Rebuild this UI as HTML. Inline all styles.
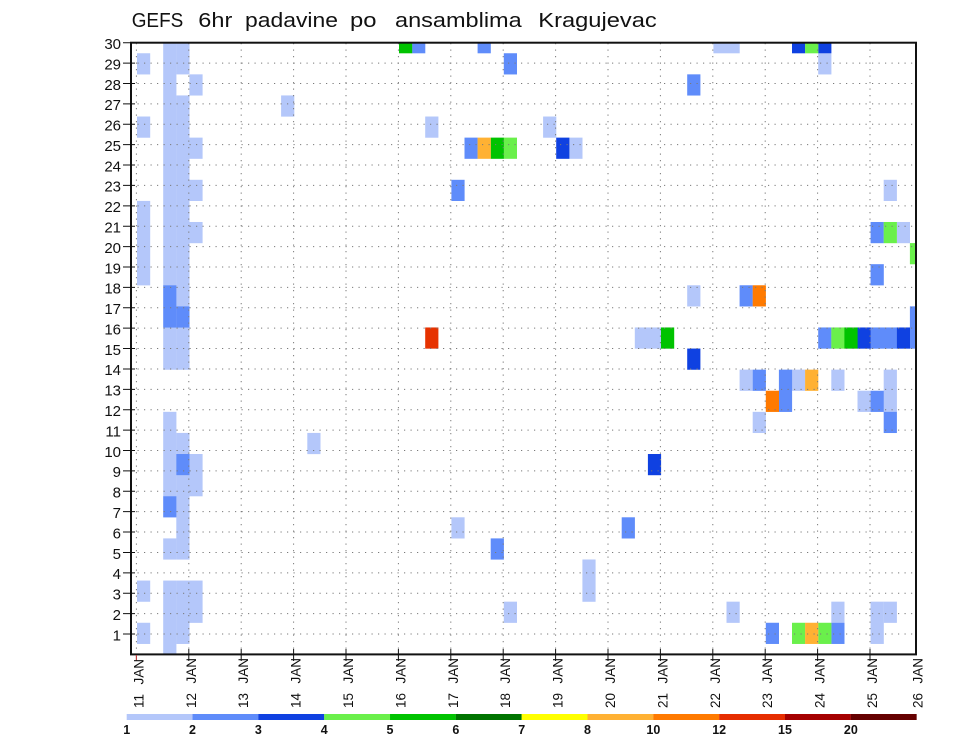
<!DOCTYPE html>
<html>
<head>
<meta charset="utf-8">
<style>
html,body{margin:0;padding:0;background:#fff;}
svg{display:block;}
.a{fill:#b4c7fa}.b{fill:#5f8cfa}.c{fill:#0f41e1}.d{fill:#6af04b}.e{fill:#00c300}
.f{fill:#ffb133}.g{fill:#ff7a00}.h{fill:#e63200}
text{font-family:"Liberation Sans",sans-serif;fill:#111;}
</style>
</head>
<body>
<svg width="960" height="742" viewBox="0 0 960 742" xmlns="http://www.w3.org/2000/svg">
<defs>
<clipPath id="pc"><rect x="131" y="42.7" width="785" height="611.7"/></clipPath>
</defs>
<rect width="960" height="742" fill="#fff"/>

<!-- title -->
<g font-size="20">
<text x="131.7" y="27" textLength="51.6" lengthAdjust="spacingAndGlyphs">GEFS</text>
<text x="198.3" y="27" textLength="34" lengthAdjust="spacingAndGlyphs">6hr</text>
<text x="245" y="27" textLength="93" lengthAdjust="spacingAndGlyphs">padavine</text>
<text x="350" y="27" textLength="26.5" lengthAdjust="spacingAndGlyphs">po</text>
<text x="395" y="27" textLength="126.7" lengthAdjust="spacingAndGlyphs">ansamblima</text>
<text x="538.3" y="27" textLength="118.4" lengthAdjust="spacingAndGlyphs">Kragujevac</text>
</g>

<g clip-path="url(#pc)">
<g>
<!-- light a -->
<rect class="a" x="137" y="622.76" width="13.2" height="21.2"/>
<rect class="a" x="137" y="580.57" width="13.2" height="21.2"/>
<rect class="a" x="137" y="200.90" width="13.2" height="84.47"/>
<rect class="a" x="137" y="116.52" width="13.2" height="21.2"/>
<rect class="a" x="137" y="53.25" width="13.2" height="21.2"/>

<rect class="a" x="163.2" y="580.57" width="13.2" height="84.5"/>
<rect class="a" x="163.2" y="538.39" width="13.2" height="21.2"/>
<rect class="a" x="163.2" y="411.83" width="13.2" height="84.47"/>
<rect class="a" x="163.2" y="327.46" width="13.2" height="42.3"/>
<rect class="a" x="163.2" y="20" width="13.2" height="265.4"/>

<rect class="a" x="176.3" y="580.57" width="13.2" height="63.4"/>
<rect class="a" x="176.3" y="475.11" width="13.2" height="84.47"/>
<rect class="a" x="176.3" y="432.92" width="13.2" height="21.2"/>
<rect class="a" x="176.3" y="327.46" width="13.2" height="42.3"/>
<rect class="a" x="176.3" y="95.43" width="13.2" height="211.0"/>
<rect class="a" x="176.3" y="20" width="13.2" height="54.4"/>

<rect class="a" x="189.4" y="580.57" width="13.2" height="42.3"/>
<rect class="a" x="189.4" y="454.01" width="13.2" height="42.3"/>
<rect class="a" x="189.4" y="221.99" width="13.2" height="21.2"/>
<rect class="a" x="189.4" y="179.80" width="13.2" height="21.2"/>
<rect class="a" x="189.4" y="137.62" width="13.2" height="21.2"/>
<rect class="a" x="189.4" y="74.34" width="13.2" height="21.2"/>

<rect class="a" x="281.1" y="95.43" width="13.2" height="21.2"/>
<rect class="a" x="307.3" y="432.92" width="13.2" height="21.2"/>
<rect class="a" x="425.2" y="116.52" width="13.2" height="21.2"/>
<rect class="a" x="451.4" y="517.29" width="13.2" height="21.2"/>
<rect class="a" x="503.8" y="601.66" width="13.2" height="21.2"/>
<rect class="a" x="543.1" y="116.52" width="13.2" height="21.2"/>
<rect class="a" x="569.3" y="137.62" width="13.2" height="21.2"/>
<rect class="a" x="582.4" y="559.48" width="13.2" height="42.3"/>
<rect class="a" x="634.8" y="327.46" width="26.3" height="21.2"/>
<rect class="a" x="687.2" y="285.27" width="13.2" height="21.2"/>
<rect class="a" x="713.4" y="20" width="26.3" height="33.3"/>
<rect class="a" x="726.5" y="601.66" width="13.2" height="21.2"/>
<rect class="a" x="739.6" y="369.64" width="13.2" height="21.2"/>
<rect class="a" x="752.7" y="411.83" width="13.2" height="21.2"/>
<rect class="a" x="792" y="369.64" width="13.2" height="21.2"/>
<rect class="a" x="818.2" y="53.25" width="13.2" height="21.2"/>
<rect class="a" x="831.3" y="369.64" width="13.2" height="21.2"/>
<rect class="a" x="831.3" y="601.66" width="13.2" height="21.2"/>
<rect class="a" x="857.5" y="390.73" width="13.2" height="21.2"/>
<rect class="a" x="870.6" y="601.66" width="13.2" height="42.3"/>
<rect class="a" x="883.7" y="179.80" width="13.2" height="21.2"/>
<rect class="a" x="883.7" y="369.64" width="13.2" height="42.3"/>
<rect class="a" x="883.7" y="601.66" width="13.2" height="21.2"/>
<rect class="a" x="896.8" y="221.99" width="13.2" height="21.2"/>

<!-- medium b -->
<rect class="b" x="163.2" y="285.27" width="13.2" height="42.3"/>
<rect class="b" x="163.2" y="496.20" width="13.2" height="21.2"/>
<rect class="b" x="176.3" y="306.36" width="13.2" height="21.2"/>
<rect class="b" x="176.3" y="454.01" width="13.2" height="21.2"/>
<rect class="b" x="412.1" y="20" width="13.2" height="33.3"/>
<rect class="b" x="477.6" y="20" width="13.2" height="33.3"/>
<rect class="b" x="503.8" y="53.25" width="13.2" height="21.2"/>
<rect class="b" x="464.5" y="137.62" width="13.2" height="21.2"/>
<rect class="b" x="451.4" y="179.80" width="13.2" height="21.2"/>
<rect class="b" x="490.7" y="538.39" width="13.2" height="21.2"/>
<rect class="b" x="621.7" y="517.29" width="13.2" height="21.2"/>
<rect class="b" x="687.2" y="74.34" width="13.2" height="21.2"/>
<rect class="b" x="870.6" y="221.99" width="13.2" height="21.2"/>
<rect class="b" x="870.6" y="264.18" width="13.2" height="21.2"/>
<rect class="b" x="870.6" y="327.46" width="26.3" height="21.2"/>
<rect class="b" x="870.6" y="390.73" width="13.2" height="21.2"/>
<rect class="b" x="883.7" y="411.83" width="13.2" height="21.2"/>
<rect class="b" x="909.9" y="306.36" width="13.2" height="42.3"/>
<rect class="b" x="739.6" y="285.27" width="13.2" height="21.2"/>
<rect class="b" x="818.2" y="327.46" width="13.2" height="21.2"/>
<rect class="b" x="752.7" y="369.64" width="13.2" height="21.2"/>
<rect class="b" x="778.9" y="369.64" width="13.2" height="42.3"/>
<rect class="b" x="765.8" y="622.76" width="13.2" height="21.2"/>
<rect class="b" x="831.3" y="622.76" width="13.2" height="21.2"/>

<!-- dark c -->
<rect class="c" x="556.2" y="137.62" width="13.2" height="21.2"/>
<rect class="c" x="792" y="20" width="13.2" height="33.3"/>
<rect class="c" x="818.2" y="20" width="13.2" height="33.3"/>
<rect class="c" x="687.2" y="348.55" width="13.2" height="21.2"/>
<rect class="c" x="857.5" y="327.46" width="13.2" height="21.2"/>
<rect class="c" x="896.8" y="327.46" width="13.2" height="21.2"/>
<rect class="c" x="647.9" y="454.01" width="13.2" height="21.2"/>

<!-- light green d -->
<rect class="d" x="503.8" y="137.62" width="13.2" height="21.2"/>
<rect class="d" x="805.1" y="20" width="13.2" height="33.3"/>
<rect class="d" x="883.7" y="221.99" width="13.2" height="21.2"/>
<rect class="d" x="909.9" y="243.08" width="13.2" height="21.2"/>
<rect class="d" x="831.3" y="327.46" width="13.2" height="21.2"/>
<rect class="d" x="792" y="622.76" width="13.2" height="21.2"/>
<rect class="d" x="818.2" y="622.76" width="13.2" height="21.2"/>

<!-- green e -->
<rect class="e" x="399" y="20" width="13.2" height="33.3"/>
<rect class="e" x="490.7" y="137.62" width="13.2" height="21.2"/>
<rect class="e" x="661" y="327.46" width="13.2" height="21.2"/>
<rect class="e" x="844.4" y="327.46" width="13.2" height="21.2"/>

<!-- light orange f -->
<rect class="f" x="477.6" y="137.62" width="13.2" height="21.2"/>
<rect class="f" x="805.1" y="369.64" width="13.2" height="21.2"/>
<rect class="f" x="805.1" y="622.76" width="13.2" height="21.2"/>

<!-- orange g -->
<rect class="g" x="752.7" y="285.27" width="13.2" height="21.2"/>
<rect class="g" x="765.8" y="390.73" width="13.2" height="21.2"/>

<!-- red h -->
<rect class="h" x="425.2" y="327.46" width="13.2" height="21.2"/>
</g>

<!-- dotted grid -->
<g stroke="#7a7a7a" stroke-width="1" stroke-dasharray="1.2 5.3" fill="none">
<path d="M131 634.01H916M131 613.62H916M131 593.23H916M131 572.84H916M131 552.45H916M131 532.06H916M131 511.67H916M131 491.28H916M131 470.89H916M131 450.50H916M131 430.11H916M131 409.72H916M131 389.33H916M131 368.94H916M131 348.55H916M131 328.16H916M131 307.77H916M131 287.38H916M131 266.99H916M131 246.60H916M131 226.21H916M131 205.82H916M131 185.43H916M131 165.04H916M131 144.65H916M131 124.26H916M131 103.87H916M131 83.48H916M131 63.09H916"/>
<path d="M136.4 43V654M188.8 43V654M241.2 43V654M293.6 43V654M346 43V654M398.4 43V654M450.8 43V654M503.2 43V654M555.6 43V654M608 43V654M660.4 43V654M712.8 43V654M765.2 43V654M817.6 43V654M870 43V654"/>
</g>
</g>

<!-- frame -->
<rect x="131" y="42.7" width="785" height="611.7" fill="none" stroke="#111" stroke-width="2"/>

<!-- ticks -->
<g stroke="#111" stroke-width="1">
<path d="M123 634.01H135M123 613.62H135M123 593.23H135M123 572.84H135M123 552.45H135M123 532.06H135M123 511.67H135M123 491.28H135M123 470.89H135M123 450.50H135M123 430.11H135M123 409.72H135M123 389.33H135M123 368.94H135M123 348.55H135M123 328.16H135M123 307.77H135M123 287.38H135M123 266.99H135M123 246.60H135M123 226.21H135M123 205.82H135M123 185.43H135M123 165.04H135M123 144.65H135M123 124.26H135M123 103.87H135M123 83.48H135M123 63.09H135M123 42.7H135"/>
<path d="M188.8 649V661M241.2 649V661M293.6 649V661M346 649V661M398.4 649V661M450.8 649V661M503.2 649V661M555.6 649V661M608 649V661M660.4 649V661M712.8 649V661M765.2 649V661M817.6 649V661M870 649V661"/>
</g>
<path d="M136.4 655V661" stroke="#c04040" stroke-width="1.2"/>

<!-- y labels -->
<g font-size="15" text-anchor="end">
<text x="121" y="640.3">1</text>
<text x="121" y="619.9">2</text>
<text x="121" y="599.5">3</text>
<text x="121" y="579.1">4</text>
<text x="121" y="558.8">5</text>
<text x="121" y="538.4">6</text>
<text x="121" y="518.0">7</text>
<text x="121" y="497.6">8</text>
<text x="121" y="477.2">9</text>
<text x="121" y="456.8">10</text>
<text x="121" y="436.4">11</text>
<text x="121" y="416.0">12</text>
<text x="121" y="395.6">13</text>
<text x="121" y="375.2">14</text>
<text x="121" y="354.9">15</text>
<text x="121" y="334.5">16</text>
<text x="121" y="314.1">17</text>
<text x="121" y="293.7">18</text>
<text x="121" y="273.3">19</text>
<text x="121" y="252.9">20</text>
<text x="121" y="232.5">21</text>
<text x="121" y="212.1">22</text>
<text x="121" y="191.7">23</text>
<text x="121" y="171.3">24</text>
<text x="121" y="151.0">25</text>
<text x="121" y="130.6">26</text>
<text x="121" y="110.2">27</text>
<text x="121" y="89.8">28</text>
<text x="121" y="69.4">29</text>
<text x="121" y="49.0">30</text>
</g>

<!-- x labels (rotated) -->
<g font-size="13.5">
<text transform="translate(143.4,708) rotate(-90)">11<tspan dx="9.5">JAN</tspan></text>
<text transform="translate(195.8,708) rotate(-90)">12<tspan dx="9.5">JAN</tspan></text>
<text transform="translate(248.2,708) rotate(-90)">13<tspan dx="9.5">JAN</tspan></text>
<text transform="translate(300.6,708) rotate(-90)">14<tspan dx="9.5">JAN</tspan></text>
<text transform="translate(353,708) rotate(-90)">15<tspan dx="9.5">JAN</tspan></text>
<text transform="translate(405.4,708) rotate(-90)">16<tspan dx="9.5">JAN</tspan></text>
<text transform="translate(457.8,708) rotate(-90)">17<tspan dx="9.5">JAN</tspan></text>
<text transform="translate(510.2,708) rotate(-90)">18<tspan dx="9.5">JAN</tspan></text>
<text transform="translate(562.6,708) rotate(-90)">19<tspan dx="9.5">JAN</tspan></text>
<text transform="translate(615,708) rotate(-90)">20<tspan dx="9.5">JAN</tspan></text>
<text transform="translate(667.4,708) rotate(-90)">21<tspan dx="9.5">JAN</tspan></text>
<text transform="translate(719.8,708) rotate(-90)">22<tspan dx="9.5">JAN</tspan></text>
<text transform="translate(772.2,708) rotate(-90)">23<tspan dx="9.5">JAN</tspan></text>
<text transform="translate(824.6,708) rotate(-90)">24<tspan dx="9.5">JAN</tspan></text>
<text transform="translate(877,708) rotate(-90)">25<tspan dx="9.5">JAN</tspan></text>
<text transform="translate(922.5,708) rotate(-90)">26<tspan dx="9.5">JAN</tspan></text>
</g>

<!-- legend bar -->
<g>
<rect x="126.7" y="714" width="65.9" height="6" fill="#b4c7fa"/>
<rect x="192.53" y="714" width="65.9" height="6" fill="#5f8cfa"/>
<rect x="258.36" y="714" width="65.9" height="6" fill="#0f41e1"/>
<rect x="324.19" y="714" width="65.9" height="6" fill="#6af04b"/>
<rect x="390.02" y="714" width="65.9" height="6" fill="#00c300"/>
<rect x="455.85" y="714" width="65.9" height="6" fill="#007400"/>
<rect x="521.68" y="714" width="65.9" height="6" fill="#ffff00"/>
<rect x="587.51" y="714" width="65.9" height="6" fill="#ffb133"/>
<rect x="653.34" y="714" width="65.9" height="6" fill="#ff7a00"/>
<rect x="719.17" y="714" width="65.9" height="6" fill="#e62d00"/>
<rect x="785.0" y="714" width="65.9" height="6" fill="#a50000"/>
<rect x="850.83" y="714" width="65.83" height="6" fill="#650000"/>
</g>
<g font-size="12.5" font-weight="bold" text-anchor="middle">
<text x="126.7" y="734">1</text>
<text x="192.53" y="734">2</text>
<text x="258.36" y="734">3</text>
<text x="324.19" y="734">4</text>
<text x="390.02" y="734">5</text>
<text x="455.85" y="734">6</text>
<text x="521.68" y="734">7</text>
<text x="587.51" y="734">8</text>
<text x="653.34" y="734">10</text>
<text x="719.17" y="734">12</text>
<text x="785.0" y="734">15</text>
<text x="850.83" y="734">20</text>
</g>
</svg>
</body>
</html>
